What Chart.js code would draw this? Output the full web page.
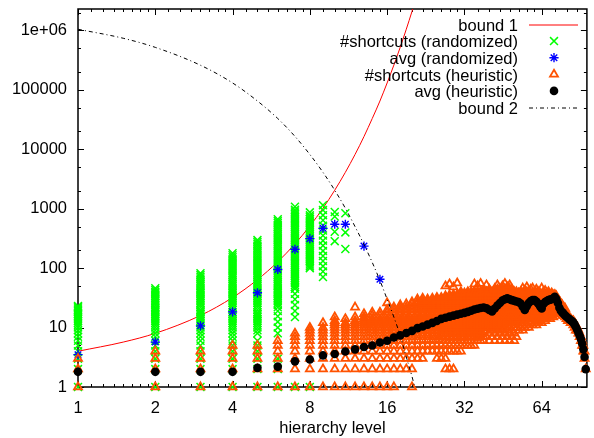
<!DOCTYPE html>
<html>
<head>
<meta charset="utf-8">
<script src="https://cdn.jsdelivr.net/npm/chart.js@4.4.1/dist/chart.umd.min.js"></script>
<style>
  html, body { margin: 0; padding: 0; background: #fff; }
</style>
</head>
<body>
<canvas id="chart" width="594" height="438"></canvas>
<script>
const xTicks = [1, 2, 4, 8, 16, 32, 64];
const yTicks = [1, 10, 100, 1000, 10000, 100000, 1000000];

// bound 1 (red curve)
const bound1Levels = [1, 1.5, 2, 3, 4, 5, 6, 7, 8, 9, 10, 11, 12, 13, 14, 15, 16, 17, 18, 19, 20, 21];
const bound1Values = [4, 5.7, 8, 16, 32, 64, 128, 256, 512, 1020, 2050, 4100, 8200, 16400, 33000, 65000, 131000, 262000, 524000, 1050000, 2100000, 4200000];

// bound 2 (dash-dot curve)
const bound2Levels = [1, 1.5, 2, 3, 4, 5, 6, 7, 8, 9, 10, 11, 12, 13, 14, 15, 16, 17, 18, 19, 20, 20.5, 21];
const bound2Values = [1050000, 740000, 520000, 260000, 131000, 65000, 33000, 16500, 8200, 4100, 2050, 1020, 500, 250, 125, 62, 30, 15, 7.3, 3.2, 1.5, 1, 0.7];

// #shortcuts (randomized), one list per level
const randomizedLevels = [1, 2, 3, 4, 5, 6, 7, 8, 9, 10, 11];
const randomizedCounts = [
  [1,2,3,4,5,6,7,8,9,10,11,12,13,14,15,16,17,18,19,20,21,22,23],
  [1,2,3,4,5,6,7,8,9,10,11,12,13,14,15,16,17,18,19,20,21,22,24,26,28,30,32,34,36,38,40,43,46],
  [1,2,3,4,5,6,7,8,9,10,11,12,13,14,15,16,17,18,19,20,22,24,26,28,30,32,34,36,38,40,43,46,50,54,58,62,67,72,77,82],
  [1,2,3,4,5,6,7,8,9,10,11,12,13,14,15,16,17,18,20,22,24,26,28,30,32,34,36,38,40,43,46,50,54,58,62,67,72,77,83,90,97,105,113,122,132,142,153,165,178],
  [1,2,3,4,5,6,8,9,10,11,12,13,14,15,16,17,18,20,22,24,26,28,30,32,34,36,38,40,43,46,50,54,58,62,67,72,77,83,90,97,105,113,122,132,142,153,165,178,192,207,223,240,258,277,297],
  [1,2,3,8,10,12.5,15.5,19,22,24,26,28,30,32,34,36,38,40,43,46,50,54,58,62,67,72,77,83,90,97,105,113,122,132,142,153,165,178,192,207,223,240,258,277,298,320,345,372,400,430,463,498,536,577,620,666],
  [1,15,19,24,30,37,45,48,52,56,60,64,69,74,80,86,92,99,106,114,123,132,142,153,165,178,192,207,223,240,258,277,298,320,345,372,400,430,463,498,536,577,620,668,720,775,835,900,960,1080],
  [1,100,107,115,124,133,143,154,166,178,192,207,223,240,258,277,298,320,345,372,400,430,463,498,536,577,620,668,720,775,870],
  [71,88,108,132,160,195,240,290,355,430,520,640,780,950,1150],
  [880,740,410,285],
  [840,400,210]
];

// avg (randomized)
const randomizedAvgLevels = [1, 2, 3, 4, 5, 6, 7, 8, 9, 10, 11, 13, 15];
const randomizedAvg = [3.5, 5.7, 10.7, 18.4, 38.5, 95, 208, 314, 468, 548, 548, 235, 65];

// #shortcuts (heuristic), one list per level
const heuristicLevels = [1,2,3,4,5,6,7,8,9,10,11,12,13,14,15,16,17,18,19,20,21,22,23,24,25,26,27,28,29,30,31,32,33,34,35,36,37,38,39,40,41,42,43,44,45,46,47,48,49,50,51,52,53,54,55,56,57,58,59,60,61,62,63,64,65,66,67,68,69,70,71,72,73,74,75,76,77,78,79,80,81,82,83,84,85,86,87,88,89,90,91,92,93,94,95];
const heuristicCounts = [
  [1,2,3],
  [1,2,3,4],
  [1,2,3,4],
  [1,2,3,4,5],
  [1,2,3,4,5],
  [1,2,3,4,5,6],
  [1,2,3,4,5,6,7,8],
  [1,2,3,4,5,6,7,8,9,10],
  [1,2,3,4,5,6,7,8,9,10,12],
  [1,2,3,4,5,6,7,8,9,10,11,12,13,15],
  [1,2,3,4,5,6,7,8,9,10,11,12,14],
  [1,2,3,4,5,6,7,8,9,10,11,12,13,15,22],
  [1,2,3,4,5,6,7,8,9,10,11,12,13,14,15,17],
  [1,2,3,4,5,6,7,8,9,10,11,12,13,14,16,18],
  [1,2,3,4,5,6,7,8,9,10,11,12,13,14,16,18],
  [1,2,3,4,5,6,7,8,9,10,11,12,13,14,16,18,20,26],
  [1,2,3,4,5,6,7,8,9,10,11,12,13,14,16,18,20,22],
  [2,3,4,5,6,7,8,9,10,11,12,13,14,16,18,20,22,24],
  [2,3,4,5,6,7,8,9,10,11,12,13,14,16,18,20,22,25],
  [1,2,3,4,5,6,7,8,9,10,11,12,13,14,16,18,20,22,25,27],
  [3,4,5,6,7,8,9,10,11,12,13,14,16,18,20,22,25,27,30],
  [3,4,5,6,7,8,9,10,11,12,13,14,16,18,20,22,24,26,28,31],
  [4,5,6,7,8,9,10,11,12,13,14,16,18,20,22,24,26,28,30],
  [4,5,6,7,8,9,10,11,12,13,14,16,18,20,22,24,26,28,31],
  [3,4,5,6,7,8,9,10,11,12,13,14,16,18,20,22,24,26,28,30,32],
  [3,4,5,6,7,8,9,10,11,12,13,14,16,18,20,22,24,26,28,30,32],
  [2,3,4,5,6,7,8,9,10,11,12,13,14,16,18,20,22,24,26,28,30,32,34,50],
  [2,4,5,6,7,8,9,10,11,12,13,14,16,18,20,22,24,26,28,30,32,35,54],
  [2,4,5,6,7,8,9,10,11,12,13,14,16,18,20,22,24,26,28,30,32,34,36,48],
  [4,5,6,7,8,9,10,11,12,13,14,16,18,20,22,24,26,28,30,32,34,36,56],
  [4,5,6,7,8,9,10,11,12,13,14,16,18,20,22,24,26,28,30,32,34,36,38,40],
  [5,6,7,8,9,10,11,12,13,14,16,18,20,22,24,26,28,30,32,34,36,38],
  [5,6,7,8,9,10,11,12,13,14,16,18,20,22,24,26,28,30,32,34,36,38,40],
  [5,6,7,8,9,10,11,12,13,14,16,18,20,22,24,26,28,30,32,34,36,38,40],
  [5,6,7,8,9,10,11,12,13,14,16,18,20,22,24,26,28,30,32,34,36,38,40,54],
  [6,7,8,9,10,11,12,13,14,16,18,20,22,24,26,28,30,32,34,36,38,40,50],
  [6,7,8,9,10,11,12,13,14,16,18,20,22,24,26,28,30,32,34,36,38,40,55],
  [6,7,9,10,11,12,13,14,16,18,20,22,24,26,28,30,32,34,36,38,40,44],
  [7,9,10,11,12,13,14,16,18,20,22,24,26,28,30,32,34,36,38,40,52],
  [6,8,10,11,12,13,14,16,18,20,22,24,26,28,30,32,34,36,38,40,44],
  [7,9,10,11,12,13,14,16,18,20,22,24,26,28,30,32,34,36,38,40],
  [6,8,10,11,12,13,14,16,18,20,22,24,26,28,30,32,34,36,38,40,42,45],
  [7,9,10,11,12,13,14,16,18,20,22,24,26,28,30,32,34,36,38,40,42,44,52],
  [6,8,10,11,12,13,14,16,18,20,22,24,26,28,30,32,34,36,38,40,42,45],
  [7,9,11,12,13,14,16,18,20,22,24,26,28,30,32,34,36,38,40,42,44,50],
  [6,8,10,12,13,14,16,18,20,22,24,26,28,30,32,34,36,38,40,42,45,55],
  [7,9,11,12,13,14,16,18,20,22,24,26,28,30,32,34,36,38,40,42,44,48],
  [6,8,10,12,13,14,16,18,20,22,24,26,28,30,32,34,36,38,40,42,45,52],
  [7,9,11,13,14,15,16,18,20,22,24,26,28,30,32,34,36,38,40,42,44],
  [6,8,10,12,13,14,16,18,20,22,24,26,28,30,32,34,36,38,40],
  [7,10,12,13,14,15,16,18,20,22,24,26,28,30,32,34,36,38,40],
  [9,11,13,14,15,16,18,20,22,24,26,28,30,32,34,36,38],
  [10,12,14,15,16,18,20,22,24,26,28,30,32,34,36,38,40],
  [9,11,14,15,16,18,20,22,24,26,28,30,32,34,36,38,46],
  [10,13,15,16,17,18,20,22,24,26,28,30,32,34,36,38,42],
  [11,14,16,17,18,20,22,24,26,28,30,32,34,36,38,40,48],
  [10,13,15,17,19,20,22,24,26,28,30,32,34,36,38,40],
  [12,14,16,17,18,20,22,24,26,28,30,32,34,36,38,44],
  [11,14,16,17,18,20,22,24,26,28,30,32,34,36,38,46],
  [12,15,17,18,20,22,24,26,28,30,32,34,36,38,40],
  [11,13,15,17,19,20,22,24,26,28,30,32,34,36,38,44],
  [12,14,16,18,20,22,24,26,28,30,32,34,36,38,40],
  [13,16,18,20,22,24,26,28,30,32,34,36,38],
  [12,15,17,19,20,22,24,26,28,30,32,34,36,46],
  [14,16,18,20,22,24,26,28,30,32,34,36,38,40],
  [13,15,17,19,20,22,24,26,28,30,32,34,36,42],
  [14,16,18,20,22,24,26,28,30,32,34,36,38],
  [15,17,19,20,22,24,26,28,30,32,34,36,38,40],
  [14,16,18,20,22,24,26,28,30,32,35],
  [16,18,20,22,24,26,28,30,32,34,36,38],
  [15,17,19,21,22,24,26,28,30,32,35],
  [17,19,20,22,24,26,28,30,32,34,36],
  [18,20,22,24,26,28,30,32,34],
  [18,20,22,24,26,28,30],
  [17,19,21,23,25,28],
  [17,19,21,23,25],
  [16,18,20,22,24],
  [16,18,20,22],
  [15,17,19,21],
  [14,16],
  [13,15],
  [13,15],
  [12,14],
  [12,13],
  [11,13],
  [10,12],
  [9,11],
  [9,10],
  [8,9],
  [7,8],
  [6,7],
  [5,6],
  [4,5],
  [3,4],
  [2]
];

// avg (heuristic), one value per level
const heuristicAvg = [1.8,1.8,1.8,1.8,2.1,2.2,2.7,2.9,3.4,3.6,3.95,4.3,4.7,5.0,5.6,6.0,6.8,7.4,8.1,8.8,9.8,10.4,11.2,12.0,12.9,14.0,14.6,15.3,15.9,16.5,17.1,17.7,18.4,19.2,20.1,20.8,21.4,21.8,21.2,19.8,18.6,21.0,23.5,26.0,28.5,30.0,31.0,30.0,29.0,28.2,27.5,27.0,25.5,22.5,19.8,23.0,26.0,28.0,29.0,29.0,27.5,25.5,23.0,21.0,25.0,27.0,28.0,29.0,29.5,30.0,31.0,33.0,30.0,26.0,21.5,19.2,18.0,17.0,16.0,15.2,14.5,13.9,13.3,12.8,12.1,11.2,10.2,9.2,8.2,7.3,6.4,5.4,4.3,3.2,2.0];

const FONT = '"Liberation Sans", Arial, Helvetica, sans-serif';

function columnPoints(levels, lists) {
  const pts = [];
  levels.forEach((lv, i) => lists[i].forEach(v => pts.push({ x: lv, y: v })));
  return pts;
}
function pairPoints(xs, ys) {
  return xs.map((x, i) => ({ x: x, y: ys[i] }));
}

// minor tick marks (axis decoration only)
const xMinor = [];
xTicks.forEach(m => { for (let k = 1; k < 8; k++) { const v = m * (1 + k / 8); if (v < 96) xMinor.push(v); } });
const yMinor = [];
yTicks.forEach(m => [2, 5].forEach(f => { if (m * f < 2300000) yMinor.push(m * f); }));

const frame = {
  id: 'frame',
  beforeDatasetsDraw(chart) {
    const { ctx, chartArea: a, scales: { x, y } } = chart;
    ctx.save();
    ctx.strokeStyle = '#000';
    ctx.lineWidth = 1;
    ctx.beginPath();
    const xt = (v, len) => {
      const p = Math.round(x.getPixelForValue(v)) + 0.5;
      ctx.moveTo(p, a.bottom); ctx.lineTo(p, a.bottom - len);
      ctx.moveTo(p, a.top); ctx.lineTo(p, a.top + len);
    };
    const yt = (v, len) => {
      const p = Math.round(y.getPixelForValue(v)) + 0.5;
      ctx.moveTo(a.left, p); ctx.lineTo(a.left + len, p);
      ctx.moveTo(a.right, p); ctx.lineTo(a.right - len, p);
    };
    xTicks.forEach(v => xt(v, 6));
    xMinor.forEach(v => xt(v, 3));
    yTicks.forEach(v => yt(v, 6));
    yMinor.forEach(v => yt(v, 3));
    ctx.stroke();
    ctx.lineWidth = 1.5;
    ctx.strokeRect(a.left, a.top, a.right - a.left, a.bottom - a.top);
    ctx.restore();
  }
};

const key = {
  id: 'key',
  afterDatasetsDraw(chart) {
    const ctx = chart.ctx;
    ctx.save();
    ctx.font = '16.5px ' + FONT;
    ctx.textAlign = 'right';
    ctx.textBaseline = 'alphabetic';
    chart.data.datasets.forEach((ds, i) => {
      const base = 30.7 + 16.6 * i;
      const mid = base - 6.2;
      ctx.fillStyle = '#000';
      ctx.fillText(ds.label, 518, base);
      ctx.strokeStyle = ds.borderColor;
      ctx.lineWidth = ds.borderWidth || 1;
      if (ds.showLine) {
        ctx.setLineDash(ds.borderDash || []);
        ctx.beginPath();
        ctx.moveTo(529, mid + 0.5);
        ctx.lineTo(578, mid + 0.5);
        ctx.stroke();
        ctx.setLineDash([]);
      } else {
        ctx.fillStyle = ds.backgroundColor;
        Chart.helpers.drawPoint(ctx, {
          pointStyle: ds.pointStyle, radius: ds.pointRadius, borderWidth: ds.borderWidth, rotation: 0
        }, 554, mid);
      }
    });
    ctx.restore();
  }
};

new Chart(document.getElementById('chart'), {
  type: 'scatter',
  data: {
    datasets: [
      {
        type: 'line', label: 'bound 1', order: 6,
        data: pairPoints(bound1Levels, bound1Values),
        showLine: true, borderColor: '#ff0000', borderWidth: 1, pointRadius: 0,
        cubicInterpolationMode: 'monotone', fill: false
      },
      {
        label: '#shortcuts (randomized)', order: 5,
        data: columnPoints(randomizedLevels, randomizedCounts),
        pointStyle: 'crossRot', pointRadius: 5.6, borderWidth: 1.5,
        borderColor: '#00ff00', backgroundColor: '#00ff00', clip: false
      },
      {
        label: 'avg (randomized)', order: 4,
        data: pairPoints(randomizedAvgLevels, randomizedAvg),
        pointStyle: 'star', pointRadius: 4.6, borderWidth: 1.4,
        borderColor: '#0000ff', backgroundColor: '#0000ff', clip: false
      },
      {
        label: '#shortcuts (heuristic)', order: 3,
        data: columnPoints(heuristicLevels, heuristicCounts),
        pointStyle: 'triangle', pointRadius: 4.6, borderWidth: 1.8,
        borderColor: '#ff5200', backgroundColor: 'rgba(0,0,0,0)', clip: false
      },
      {
        label: 'avg (heuristic)', order: 2,
        data: pairPoints(heuristicLevels, heuristicAvg),
        pointStyle: 'circle', pointRadius: 4.3, borderWidth: 0,
        borderColor: '#000000', backgroundColor: '#000000', clip: false
      },
      {
        type: 'line', label: 'bound 2', order: 1,
        data: pairPoints(bound2Levels, bound2Values),
        showLine: true, borderColor: '#000000', borderWidth: 1, borderDash: [4, 3, 1, 3],
        pointRadius: 0, cubicInterpolationMode: 'monotone', fill: false
      }
    ]
  },
  options: {
    responsive: false,
    animation: false,
    devicePixelRatio: 1,
    events: [],
    layout: { padding: 0 },
    plugins: { legend: { display: false }, tooltip: { enabled: false } },
    scales: {
      x: {
        type: 'logarithmic', min: 1, max: 96,
        grid: { display: false, drawTicks: false },
        border: { display: false },
        afterBuildTicks: s => { s.ticks = xTicks.map(v => ({ value: v })); },
        afterFit: s => { s.height = 51; s.paddingLeft = 0; s.paddingRight = 1; },
        ticks: {
          autoSkip: false, maxRotation: 0, padding: 12, color: '#000',
          font: { family: FONT, size: 16.5 },
          callback: v => String(v)
        },
        title: {
          display: true, text: 'hierarchy level', color: '#000',
          font: { family: FONT, size: 16.5 }, padding: { top: 0, bottom: 0 }
        }
      },
      y: {
        type: 'logarithmic', min: 1, max: 2300000,
        grid: { display: false, drawTicks: false },
        border: { display: false },
        afterBuildTicks: s => { s.ticks = yTicks.map(v => ({ value: v })); },
        afterFit: s => { s.width = 78; s.paddingTop = 9; s.paddingBottom = 0; },
        ticks: {
          autoSkip: false, padding: 11, color: '#000',
          font: { family: FONT, size: 16.5 },
          callback: v => (v === 1000000 ? '1e+06' : String(v))
        }
      }
    }
  },
  plugins: [frame, key]
});
</script>
</body>
</html>
